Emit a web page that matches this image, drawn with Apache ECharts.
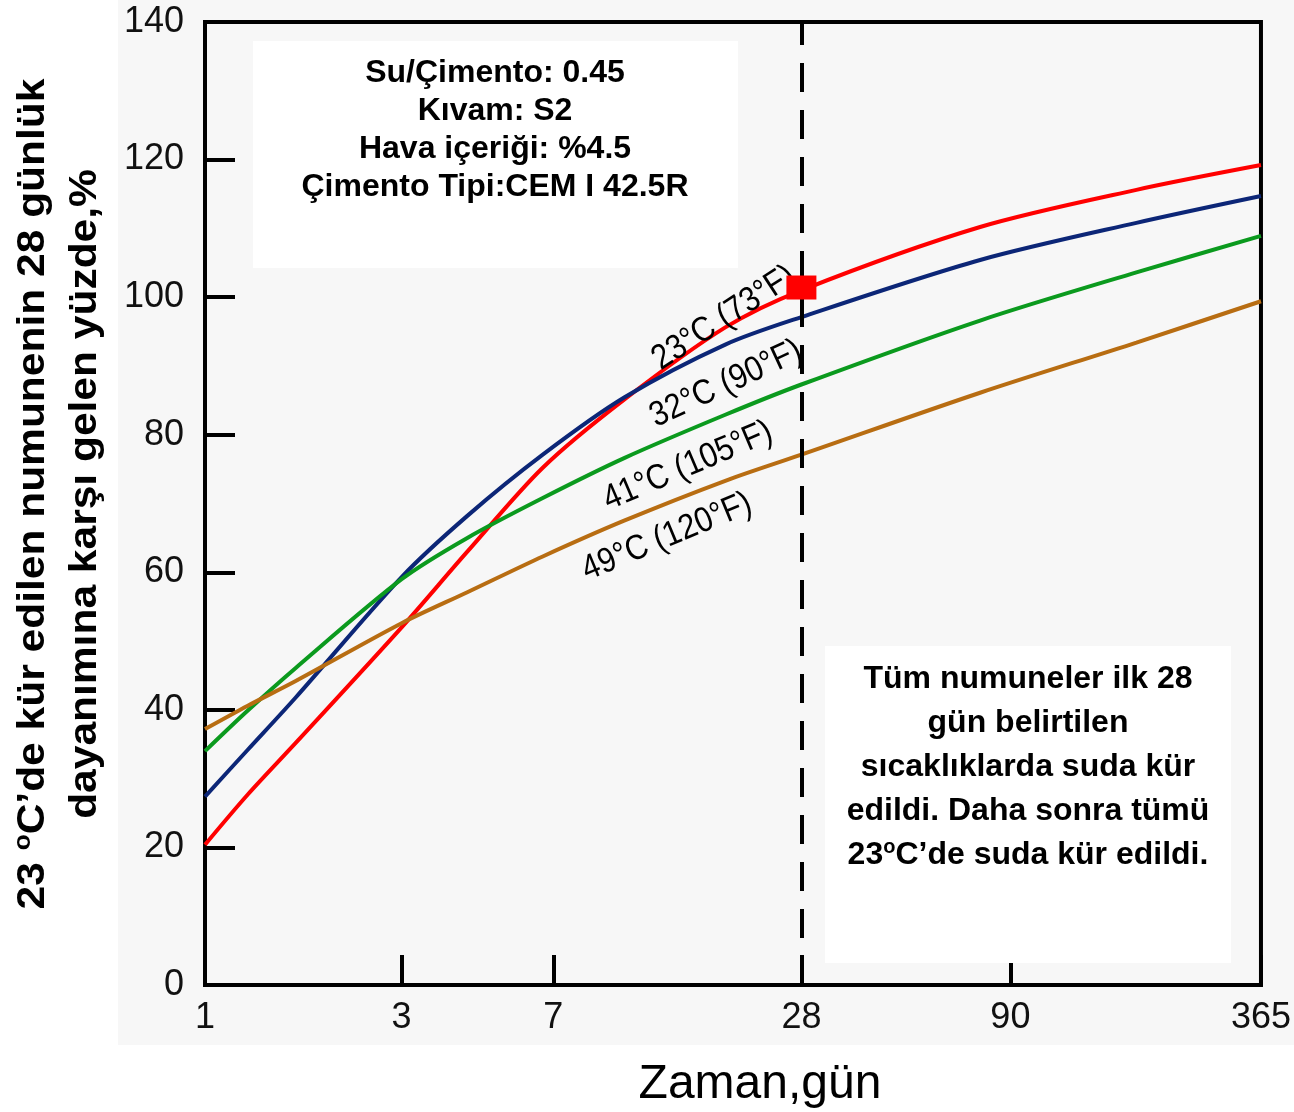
<!DOCTYPE html>
<html>
<head>
<meta charset="utf-8">
<title>Dayanım - Zaman</title>
<script src="https://cdn.jsdelivr.net/npm/echarts@6/dist/echarts.min.js"></script>
<style>
  html, body { margin: 0; padding: 0; background: #fff; }
  #chart { width: 1294px; height: 1112px; }
</style>
</head>
<body>
<div id="chart"></div>
<script>
var days = [1, 1.27, 1.66, 3, 4.33, 6.6, 10.4, 18.3, 28, 76, 182, 365];

// % of 28-day strength of the 23 C specimen
var c23 = [20.4, 27.7, 35.2, 52.0, 63.0, 75.2, 85.1, 95.6, 101, 110.2, 115.6, 119.2];
var c32 = [27.4, 34.2, 41.8, 59.3, 68.2, 77.1, 85.4, 93.1, 97.1, 105.4, 110.8, 114.7];
var c41 = [34, 39.9, 46.1, 59, 65, 70.8, 76.6, 82.9, 87.3, 96.6, 103.6, 108.9];
var c49 = [37.2, 40.6, 44.2, 52.6, 57.1, 62.3, 67.5, 73.3, 77.1, 86.1, 93.4, 99.4];

var curveNames = ['23°C (73°F)', '32°C (90°F)', '41°C (105°F)', '49°C (120°F)'];
var curveColors = ['#ff0000', '#0c2677', '#0b9a1e', '#b86d12'];

var xTicks = [1, 3, 7, 28, 90, 365];
var markDay = 28;
var markValue = 101.4;

var FONT = 'Liberation Sans';

function pairs(vals) {
  return days.map(function (d, i) { return [d, vals[i]]; });
}

var chart = echarts.init(document.getElementById('chart'));

var lineSeries = [c23, c32, c41, c49].map(function (vals, i) {
  return {
    name: curveNames[i],
    type: 'line',
    data: pairs(vals),
    smooth: 0.3,
    symbol: 'none',
    lineStyle: { color: curveColors[i], width: 4 },
    z: 3
  };
});

// 28 day dashed line + red square
lineSeries.push({
  type: 'scatter',
  data: [[markDay, markValue]],
  symbol: 'rect',
  symbolSize: [30, 24],
  itemStyle: { color: '#ff0000', opacity: 1 },
  z: 6,
  markLine: {
    silent: true,
    symbol: 'none',
    label: { show: false },
    lineStyle: { color: '#000', width: 4, type: [29, 18] },
    data: [{ xAxis: markDay }]
  }
});

// rotated curve labels
var curveLabelPos = [[724, 318, 33], [726, 384, 25], [688, 466, 23], [667, 537, 22.5]];
var curveLabels = curveNames.map(function (name, i) {
  var p = curveLabelPos[i];
  return {
    type: 'text', z: 6, x: p[0], y: p[1], rotation: p[2] * Math.PI / 180, scaleX: 0.88,
    style: { text: name, font: '35px "Liberation Sans"', fill: '#000', align: 'center', verticalAlign: 'middle' }
  };
});

var option = {
  animation: false,
  backgroundColor: '#ffffff',
  grid: {
    left: 205, right: 26, top: 22, bottom: 127,
    show: true, borderColor: '#000', borderWidth: 4, backgroundColor: 'transparent'
  },
  xAxis: {
    type: 'log',
    logBase: 10,
    min: 1,
    max: 365,
    axisLine: { lineStyle: { color: '#000', width: 4 } },
    axisTick: { inside: true, length: 30, customValues: xTicks, lineStyle: { color: '#000', width: 4 } },
    axisLabel: { customValues: xTicks, margin: 15, fontFamily: FONT, fontSize: 36, color: '#111' },
    splitLine: { show: false },
    minorTick: { show: false }
  },
  yAxis: {
    type: 'value',
    min: 0,
    max: 140,
    interval: 20,
    axisLine: { show: true, lineStyle: { color: '#000', width: 4 } },
    axisTick: { show: true, inside: true, length: 30, lineStyle: { color: '#000', width: 4 } },
    axisLabel: { margin: 21, fontFamily: FONT, fontSize: 36, color: '#111' },
    splitLine: { show: false }
  },
  graphic: [
    // light grey panel behind the plot
    { type: 'rect', z: -10, shape: { x: 118, y: 0, width: 1176, height: 1045 }, style: { fill: '#f7f7f7' } },
    // info box (top left)
    { type: 'rect', z: 5, shape: { x: 253, y: 41, width: 485, height: 227 }, style: { fill: '#fff' } },
    {
      type: 'text', z: 6, x: 495, y: 130,
      style: {
        text: 'Su/Çimento: 0.45\nKıvam: S2\nHava içeriği: %4.5\nÇimento Tipi:CEM I 42.5R',
        font: 'bold 32px "Liberation Sans"', fill: '#000',
        align: 'center', verticalAlign: 'middle', lineHeight: 38
      }
    },
    // note box (bottom right)
    { type: 'rect', z: 5, shape: { x: 825, y: 646, width: 406, height: 317 }, style: { fill: '#fff' } },
    {
      type: 'text', z: 6, x: 1028, y: 767,
      style: {
        text: '{b|Tüm numuneler ilk 28}\n{b|gün belirtilen}\n{b|sıcaklıklarda suda kür}\n{b|edildi. Daha sonra tümü}\n{b|23}{s|o}{b|C’de suda kür edildi.}',
        align: 'center', verticalAlign: 'middle',
        rich: {
          b: { font: 'bold 32px "Liberation Sans"', fill: '#000', lineHeight: 44 },
          s: { font: 'bold 20px "Liberation Sans"', fill: '#000', lineHeight: 44, padding: [0, 0, 16, 0] }
        }
      }
    },
    // axis titles
    {
      type: 'text', z: 6, x: 59, y: 494, rotation: Math.PI / 2, scaleX: 1.09,
      style: {
        text: '{t|23 }{s|o}{t|C’de kür edilen numunenin 28 günlük}\n{t|dayanımına karşı gelen yüzde,%}',
        align: 'center', verticalAlign: 'middle',
        rich: {
          t: { font: 'bold 39px "Liberation Sans"', fill: '#000', lineHeight: 52 },
          s: { font: 'bold 24px "Liberation Sans"', fill: '#000', lineHeight: 52, padding: [0, 0, 20, 0] }
        }
      }
    },
    {
      type: 'text', z: 6, x: 760, y: 1085,
      style: { text: 'Zaman,gün', font: '48px "Liberation Sans"', fill: '#000', align: 'center', verticalAlign: 'middle' }
    }
  ].concat(curveLabels),
  series: lineSeries
};

chart.setOption(option);
</script>
</body>
</html>
